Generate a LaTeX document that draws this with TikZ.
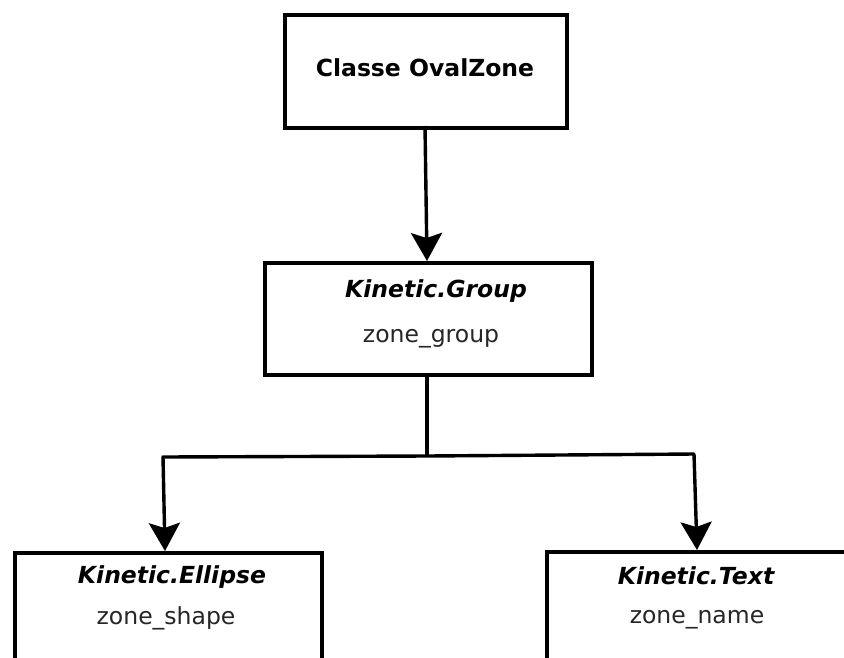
\documentclass[tikz,border=0pt]{standalone}
\usepackage{fontspec}
\setmainfont{DejaVu Sans}
\usetikzlibrary{arrows.meta}
\begin{document}
\begin{tikzpicture}[x=1pt,y=-1pt,
  box/.style={draw=black,line width=3.6pt,rectangle,inner sep=0pt,anchor=north west},
  title/.style={font=\fontsize{23.5}{26}\selectfont\bfseries\itshape,anchor=base,inner sep=0pt},
  label/.style={font=\fontsize{23.5}{26}\selectfont,anchor=base,inner sep=0pt,text=black!85},
  link/.style={line width=3.4pt},
  arrow/.style={link,-{Stealth[length=28pt,width=31pt,inset=5pt]}}]
  \clip (0,0) rectangle (844,657);
  \fill[white] (0,0) rectangle (844,657);

  % boxes
  \node[box,minimum width=282pt,minimum height=113pt] (oval) at (283,13) {};
  \node[box,minimum width=327pt,minimum height=112pt] (group) at (263,261) {};
  \node[box,minimum width=307pt,minimum height=160pt] (ellipse) at (13,551) {};
  \node[box,minimum width=360pt,minimum height=160pt] (text) at (545,550) {};

  % texts
  \node[font=\fontsize{23.5}{26}\selectfont\bfseries,anchor=base,inner sep=0pt] (ovalT) at (425,76) {Classe OvalZone};
  \node[title] (groupT) at (436,297) {Kinetic.Group};
  \node[label] (groupL) at (431,342) {zone\_group};
  \node[title] (ellipseT) at (172,583) {Kinetic.Ellipse};
  \node[label] (ellipseL) at (166,624) {zone\_shape};
  \node[title] (textT) at (696,584) {Kinetic.Text};
  \node[label] (textL) at (697,623) {zone\_name};

  % connectors
  \coordinate (ovalOut) at (425,126);
  \coordinate (groupIn) at (427,261);
  \draw[arrow] (ovalOut) -- (groupIn);

  \coordinate (groupOut) at (427,373);
  \coordinate (fork) at (427,456);
  \coordinate (forkL) at (163,457);
  \coordinate (forkR) at (694,454);
  \coordinate (ellipseIn) at (165,551);
  \coordinate (textIn) at (697,550);
  \draw[link] (groupOut) -- (fork);
  \draw[arrow,line join=round] (fork) -- (forkL) -- (ellipseIn);
  \draw[arrow,line join=round] (fork) -- (forkR) -- (textIn);
\end{tikzpicture}
\end{document}
